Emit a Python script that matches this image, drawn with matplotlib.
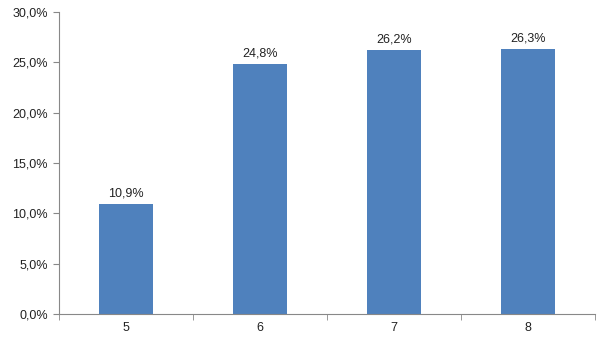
import matplotlib.pyplot as plt
from matplotlib.ticker import FuncFormatter

categories = ['5', '6', '7', '8']
values = [10.9, 24.8, 26.2, 26.3]

plt.rcParams['font.family'] = ['Liberation Sans', 'DejaVu Sans']

fig = plt.figure(figsize=(6, 3.39), dpi=100)
ax = fig.add_axes([0.0983, 0.0737, 0.8934, 0.8909])

x = list(range(len(categories)))
bars = ax.bar(x, values, width=0.4, color='#4F81BD')
for xi, v in zip(x, values):
    ax.text(xi, v + 0.5, f'{v:.1f}%'.replace('.', ','), ha='center', va='bottom',
            fontsize=9, color='#222222')

ax.set_xlim(-0.5, len(categories) - 0.5)
ax.set_ylim(0, 30)
ax.set_yticks(range(0, 31, 5))
ax.yaxis.set_major_formatter(FuncFormatter(lambda v, p: f'{v:.1f}%'.replace('.', ',')))
ax.set_xticks(x)
ax.set_xticklabels(categories)
ax.set_xticks([i - 0.5 for i in range(len(categories) + 1)], minor=True)

for s in ['top', 'right']:
    ax.spines[s].set_visible(False)
for s in ['left', 'bottom']:
    ax.spines[s].set_color('#888888')
    ax.spines[s].set_linewidth(0.8)

ax.tick_params(axis='x', which='major', length=0, pad=6, labelsize=9, colors='#222222')
ax.tick_params(axis='x', which='minor', length=4, color='#888888', direction='out')
ax.tick_params(axis='y', length=4, color='#888888', labelsize=9, labelcolor='#222222', pad=4)

fig.savefig('out.png', dpi=100)
